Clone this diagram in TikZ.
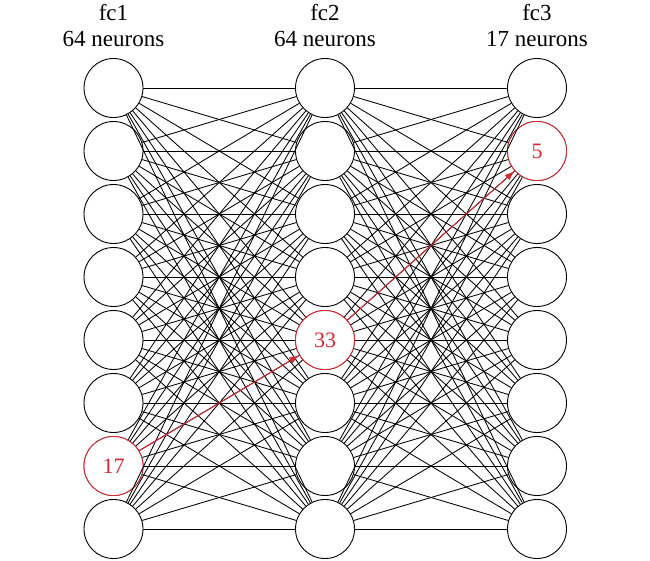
\documentclass[tikz,border=0pt]{standalone}
\usepackage{fontspec}
\setmainfont{Liberation Serif}
\usetikzlibrary{arrows.meta}
\definecolor{hl}{RGB}{208,42,52}
\begin{document}
\begin{tikzpicture}[x=1pt,y=-1pt,
  neuron/.style={circle,draw=black,line width=0.9pt,fill=white,minimum size=59pt,inner sep=0pt,font=\fontsize{22}{26}\selectfont},
  hlneuron/.style={neuron,draw=hl,text=hl},
  conn/.style={draw=black,line width=0.85pt},
  hlconn/.style={draw=hl,line width=1pt,-{Latex[length=10pt,width=7pt]}},
  title/.style={anchor=base,inner sep=0pt,font=\fontsize{23}{27}\selectfont}]
\useasboundingbox (0,0) rectangle (650,560);
\foreach \c/\x in {a/113.5,b/325,c/537}{
  \foreach \r in {1,...,8}{
    \node[neuron] (\c\r) at (\x,{88+63*(\r-1)}) {};
  }
}
\node[hlneuron] (a7x) at (a7) {17};
\node[hlneuron] (b5x) at (b5) {33};
\node[hlneuron] (c2x) at (c2) {5};
\foreach \i in {1,...,8}{
  \foreach \j in {1,...,8}{
    \draw[conn] (a\i) -- (b\j);
    \draw[conn] (b\i) -- (c\j);
  }
}
\draw[hlconn] (a7x) -- (b5x);
\draw[hlconn] (b5x) -- (c2x);
\node[title] (t1) at (113.5,20) {fc1};
\node[title] (n1) at (113.5,46) {64 neurons};
\node[title] (t2) at (325,20) {fc2};
\node[title] (n2) at (325,46) {64 neurons};
\node[title] (t3) at (537,20) {fc3};
\node[title] (n3) at (537,46) {17 neurons};
\end{tikzpicture}
\end{document}
